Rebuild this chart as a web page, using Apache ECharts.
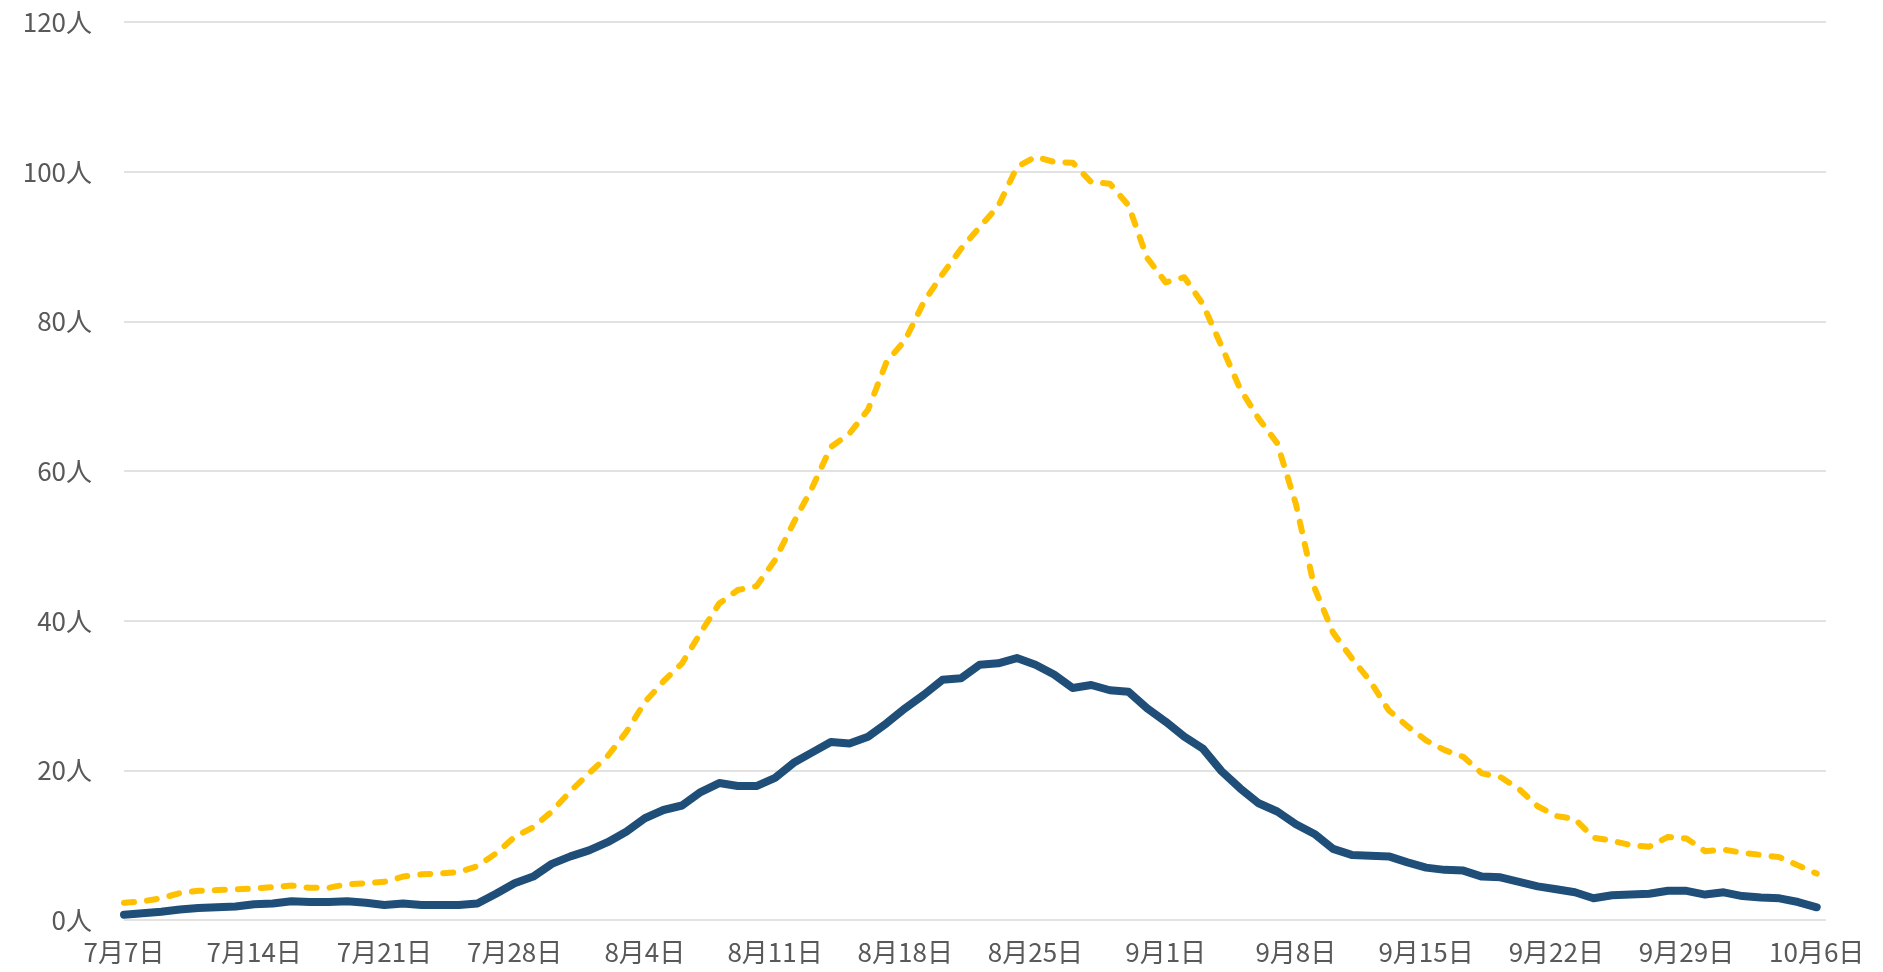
<!DOCTYPE html>
<html>
<head>
<meta charset="utf-8">
<script src="https://cdn.jsdelivr.net/npm/echarts@6/dist/echarts.min.js"></script>
<style>
html,body{margin:0;padding:0;background:#fff;}
#chart{width:1883px;height:972px;}
</style>
</head>
<body>
<div id="chart"></div>
<script>
// Dates: 7/7 .. 10/6 (daily)
const categories = (function(){
  const out = [];
  const months = [[7,7,31],[8,1,31],[9,1,30],[10,1,6]];
  months.forEach(([m,s,e]) => { for (let d = s; d <= e; d++) out.push(m + '月' + d + '日'); });
  return out;
})();

const seriesBlue = [
  0.7,0.9,1.1,1.4,1.6,1.7,1.8,2.1,2.2,2.5,
  2.4,2.4,2.5,2.3,2.0,2.2,2.0,2.0,2.0,2.2,
  3.5,4.9,5.8,7.5,8.5,9.3,10.4,11.8,13.6,14.7,
  15.3,17.1,18.3,17.9,17.9,19.0,21.0,22.4,23.8,23.6,
  24.5,26.3,28.3,30.1,32.1,32.3,34.1,34.3,35.0,34.1,
  32.8,31.0,31.4,30.7,30.5,28.3,26.5,24.5,22.9,19.9,
  17.6,15.6,14.5,12.8,11.5,9.5,8.7,8.6,8.5,7.7,
  7.0,6.7,6.6,5.8,5.7,5.1,4.5,4.1,3.7,2.9,
  3.3,3.4,3.5,3.9,3.9,3.4,3.7,3.2,3.0,2.9,
  2.4,1.7
];

const seriesYellow = [
  2.3,2.5,2.9,3.6,3.9,4.0,4.1,4.2,4.4,4.6,
  4.3,4.3,4.8,4.9,5.1,5.8,6.1,6.2,6.4,7.2,
  8.9,11.1,12.4,14.5,17.2,19.6,21.9,25.1,29.1,31.9,
  34.3,38.4,42.3,44.1,44.6,48.1,53.1,57.8,63.2,65.0,
  68.2,74.6,77.5,82.6,86.3,89.7,92.6,95.4,100.6,102.0,
  101.3,101.2,98.6,98.4,95.5,88.5,85.2,85.9,82.3,76.7,
  71.0,67.0,63.7,55.6,44.4,38.4,35.0,31.9,28.0,25.9,
  24.0,22.7,21.8,19.6,19.1,17.5,15.2,13.9,13.5,11.0,
  10.6,10.0,9.8,11.1,10.9,9.2,9.4,9.0,8.7,8.4,
  7.3,6.2
];

const yTicks = [0,20,40,60,80,100,120];
const yUnit = '人';
const labelStep = 7;

const toPairs = arr => arr.map((v,i) => [i, v]);

const chart = echarts.init(document.getElementById('chart'), null, {renderer:'canvas'});
const fontFamily = "'Noto Sans CJK JP', 'Noto Sans', sans-serif";
chart.setOption({
  animation: false,
  backgroundColor: '#ffffff',
  grid: { left: 124, right: 57, top: 22, bottom: 52, containLabel: false },
  xAxis: {
    type: 'value',
    min: 0,
    max: categories.length - 0.5,
    interval: labelStep,
    axisLine: { show: false },
    axisTick: { show: false },
    splitLine: { show: false },
    axisLabel: {
      color: '#595959',
      fontSize: 26,
      fontFamily: fontFamily,
      margin: 19,
      showMaxLabel: false,
      formatter: v => (Number.isInteger(v) && v % labelStep === 0 && categories[v]) ? categories[v] : ''
    }
  },
  yAxis: {
    type: 'value',
    min: yTicks[0],
    max: yTicks[yTicks.length-1],
    interval: yTicks[1]-yTicks[0],
    axisLine: { show: false },
    axisTick: { show: false },
    splitLine: { show: true, lineStyle: { color: '#d9d9d9', width: 1.5 } },
    axisLabel: {
      color: '#595959',
      fontSize: 26,
      fontFamily: fontFamily,
      margin: 32,
      formatter: v => v + yUnit
    }
  },
  series: [
    {
      type: 'line',
      data: toPairs(seriesBlue),
      showSymbol: false,
      symbol: 'none',
      lineStyle: { color: '#1f4e79', width: 8, cap: 'round', join: 'round' },
      z: 2
    },
    {
      type: 'line',
      data: toPairs(seriesYellow),
      showSymbol: false,
      symbol: 'none',
      lineStyle: { color: '#ffc000', width: 6, type: [10, 13], cap: 'round', join: 'round' },
      z: 3
    }
  ]
});
</script>
</body>
</html>
